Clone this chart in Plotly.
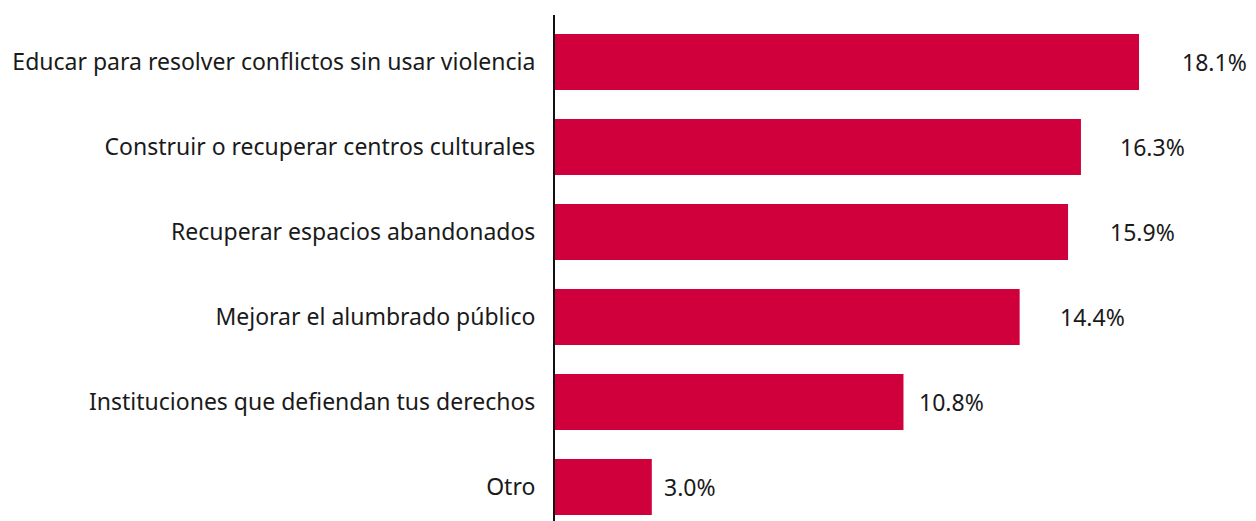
import plotly.graph_objects as go

categories = [
    "Educar para resolver conflictos sin usar violencia",
    "Construir o recuperar centros culturales",
    "Recuperar espacios abandonados",
    "Mejorar el alumbrado público",
    "Instituciones que defiendan tus derechos",
    "Otro",
]
values = [18.1, 16.3, 15.9, 14.4, 10.8, 3.0]
value_labels = ["18.1%", "16.3%", "15.9%", "14.4%", "10.8%", "3.0%"]

# style: pixel gap between bar end and its value label
label_gap_px = [41, 37, 40, 38, 14, 10]

BAR_COLOR = "#D0003C"
TEXT_COLOR = "#1a1a1a"
FONT = "Noto Sans"
FS = 23

fig = go.Figure(
    go.Bar(
        x=values,
        y=categories,
        orientation="h",
        marker=dict(color=BAR_COLOR, line=dict(width=0)),
        hoverinfo="skip",
    )
)

for cat, v, lab, gap in zip(categories, values, value_labels, label_gap_px):
    fig.add_annotation(
        x=v, y=cat, text=lab, showarrow=False, xanchor="left", yanchor="middle",
        xshift=gap, font=dict(family=FONT, size=FS, color=TEXT_COLOR),
    )

fig.update_layout(
    width=1240, height=521,
    margin=dict(l=547, r=0, t=7, b=0),
    plot_bgcolor="white", paper_bgcolor="white",
    bargap=0.34,
    showlegend=False,
    font=dict(family=FONT, size=FS, color=TEXT_COLOR),
    xaxis=dict(range=[0, 21.477], visible=False, fixedrange=True),
    yaxis=dict(
        type="category",
        categoryorder="array", categoryarray=categories,
        range=[5.494, -0.553],
        showline=True, linecolor="#111111", linewidth=2,
        showgrid=False, zeroline=False, ticks="",
        ticklabelstandoff=13,
        tickfont=dict(family=FONT, size=FS, color=TEXT_COLOR),
        fixedrange=True,
    ),
)

fig.write_html("out.html")
